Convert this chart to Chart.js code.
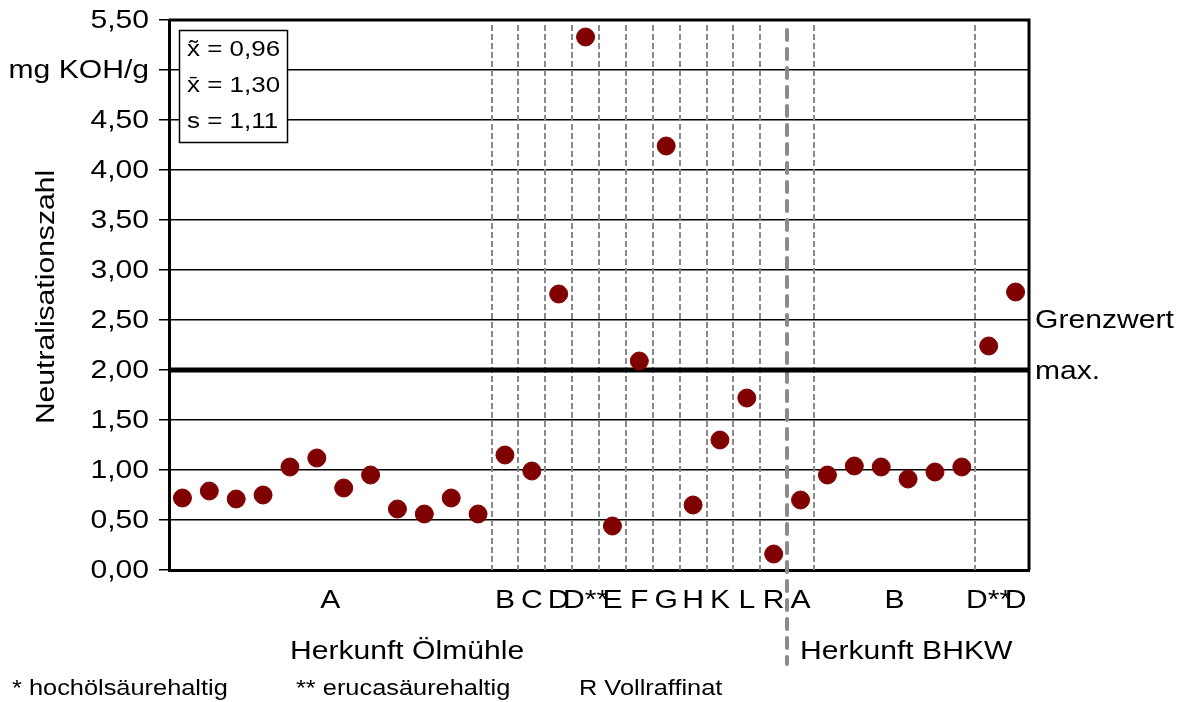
<!DOCTYPE html>
<html>
<head>
<meta charset="utf-8">
<script src="https://cdn.jsdelivr.net/npm/chart.js@4"></script>
<style>
  html, body { margin: 0; padding: 0; background: #fff; }
  #wrap { width: 1187px; height: 702px; }
</style>
</head>
<body>
<div id="wrap"><canvas id="nzChart"></canvas></div>
<script>
const categories = [
    'A', 'A', 'A', 'A', 'A', 'A', 'A', 'A', 'A', 'A', 'A', 'A',
    'B', 'C', 'D', 'D**', 'E', 'F', 'G', 'H', 'K', 'L', 'R',
    'A', 'B', 'B', 'B', 'B', 'B', 'B', 'D**', 'D'
];
const nzValues = [
    0.72, 0.79, 0.71, 0.75, 1.03, 1.12, 0.82, 0.95, 0.61, 0.56, 0.72, 0.56,
    1.15, 0.99, 2.76, 5.33, 0.44, 2.09, 4.24, 0.65, 1.30, 1.72, 0.16,
    0.70, 0.95, 1.04, 1.03, 0.91, 0.98, 1.03, 2.24, 2.78
];
const limitValue = 2.0;
const dividers = [12.5, 13.5, 14.5, 15.5, 16.5, 17.5, 18.5, 19.5, 20.5, 21.5, 22.5, 24.5, 30.5];
const originDivider = 23.5;
const origins = ['Herkunft Ölmühle', 'Herkunft BHKW'];
const stats = ['x\u0303 = 0,96', 'x\u0304 = 1,30', 's = 1,11'];
const footnotes = ['* hochölsäurehaltig', '** erucasäurehaltig', 'R Vollraffinat'];

const FONT = '"Liberation Sans", Arial, sans-serif';

// text in the original is a bit wider than Arial, so stretch it
function wideText(ctx, text, x, y, size, align, rot) {
    ctx.save();
    ctx.translate(x, y);
    if (rot) ctx.rotate(rot);
    ctx.scale(1.18, 1);
    ctx.font = size + 'px ' + FONT;
    ctx.fillStyle = '#000';
    ctx.textAlign = align || 'left';
    ctx.textBaseline = 'middle';
    ctx.fillText(text, 0, 0);
    ctx.restore();
}

const decorations = {
    id: 'decorations',
    beforeDatasetsDraw(chart) {
        const ctx = chart.ctx;
        const xs = chart.scales.x;
        const ys = chart.scales.y;
        const area = chart.chartArea;

        ctx.save();
        ctx.strokeStyle = '#8a8a8a';
        ctx.lineWidth = 2;
        ctx.setLineDash([6, 3]);
        dividers.forEach(d => {
            const px = Math.round(xs.getPixelForValue(d));
            ctx.beginPath();
            ctx.moveTo(px, area.top + 5);
            ctx.lineTo(px, area.bottom);
            ctx.stroke();
        });
        const ox = Math.round(xs.getPixelForValue(originDivider));
        ctx.lineWidth = 4;
        ctx.lineCap = 'round';
        ctx.setLineDash([10, 9]);
        ctx.beginPath();
        ctx.moveTo(ox, area.top + 10);
        ctx.lineTo(ox, 664);
        ctx.stroke();
        ctx.restore();

        // Grenzwert line
        const ly = ys.getPixelForValue(limitValue);
        ctx.save();
        ctx.strokeStyle = '#000';
        ctx.lineWidth = 5;
        ctx.beginPath();
        ctx.moveTo(area.left, ly);
        ctx.lineTo(area.right, ly);
        ctx.stroke();
        ctx.restore();
    },
    afterDraw(chart) {
        const ctx = chart.ctx;
        const xs = chart.scales.x;
        const ys = chart.scales.y;
        const area = chart.chartArea;

        ctx.save();
        ctx.strokeStyle = '#000';
        ctx.lineWidth = 3;
        ctx.beginPath();
        ctx.moveTo(area.left, area.top);
        ctx.lineTo(area.right, area.top);
        ctx.lineTo(area.right, area.bottom);
        ctx.stroke();
        ctx.restore();

        // y tick labels
        ys.ticks.forEach(t => {
            const lbl = t.value === 5 ? 'mg KOH/g' : t.value.toFixed(2).replace('.', ',');
            wideText(ctx, lbl, 149, ys.getPixelForValue(t.value) + 1, 25.5, 'right');
        });
        wideText(ctx, 'Neutralisationszahl', 47, 297, 25.5, 'center', -Math.PI / 2);

        // group labels under the points
        let start = 0;
        for (let i = 1; i <= categories.length; i++) {
            if (i === categories.length || categories[i] !== categories[start] || i === 23) {
                const mid = (start + i - 1) / 2 + 1;
                wideText(ctx, categories[start], xs.getPixelForValue(mid), 601, 25.5, 'center');
                start = i;
            }
        }

        wideText(ctx, origins[0], 290, 652, 25.5, 'left');
        wideText(ctx, origins[1], 800, 652, 25.5, 'left');
        wideText(ctx, 'Grenzwert', 1035, 321, 25.5, 'left');
        wideText(ctx, 'max.', 1035, 372, 25.5, 'left');

        // stats box
        ctx.save();
        ctx.fillStyle = '#fff';
        ctx.fillRect(179, 30, 109, 113);
        ctx.strokeStyle = '#000';
        ctx.lineWidth = 1.5;
        ctx.strokeRect(179.5, 30.5, 108, 112);
        ctx.restore();
        stats.forEach((s, i) => wideText(ctx, s, 187, 50 + i * 36, 22, 'left'));

        wideText(ctx, footnotes[0], 12, 689, 21.5, 'left');
        wideText(ctx, footnotes[1], 296, 689, 21.5, 'left');
        wideText(ctx, footnotes[2], 579, 689, 21.5, 'left');
    }
};

new Chart(document.getElementById('nzChart'), {
    type: 'scatter',
    data: {
        datasets: [{
            label: 'Neutralisationszahl',
            data: nzValues.map((v, i) => ({x: i + 1, y: v})),
            backgroundColor: '#800000',
            borderColor: '#800000',
            pointRadius: 9,
            pointHoverRadius: 9
        }]
    },
    options: {
        responsive: true,
        maintainAspectRatio: false,
        animation: false,
        layout: {padding: {top: 20, right: 158, bottom: 0, left: 0}},
        plugins: {legend: {display: false}, tooltip: {enabled: false}},
        scales: {
            x: {
                type: 'linear',
                min: 0.5,
                max: 32.5,
                grid: {display: false, drawTicks: false},
                border: {display: true, color: '#000', width: 3},
                ticks: {display: false},
                afterFit(scale) { scale.height = 132; }
            },
            y: {
                min: 0,
                max: 5.5,
                ticks: {display: false, stepSize: 0.5},
                grid: {color: '#000', lineWidth: 1.5, tickLength: 10, drawTicks: true},
                border: {display: true, color: '#000', width: 3},
                afterFit(scale) { scale.width = 169; }
            }
        }
    },
    plugins: [decorations]
});
</script>
</body>
</html>
